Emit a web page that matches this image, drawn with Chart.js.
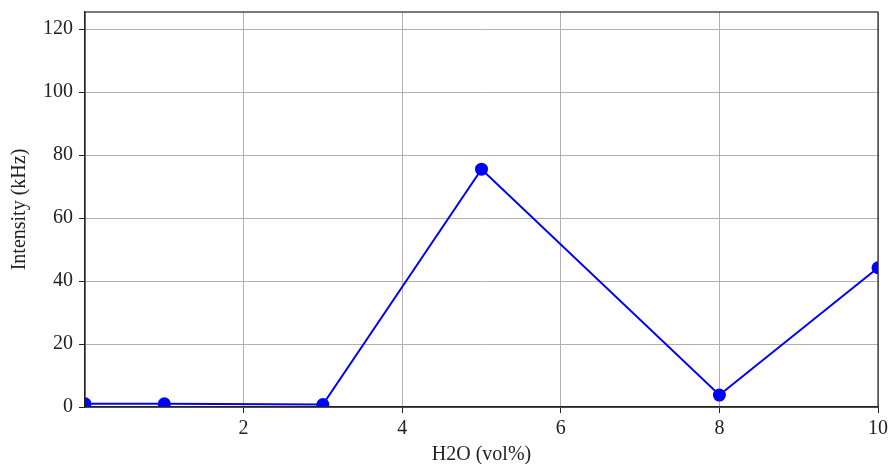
<!DOCTYPE html>
<html>
<head>
<meta charset="utf-8">
<script src="https://cdn.jsdelivr.net/npm/chart.js@4"></script>
<style>
  html, body { margin: 0; padding: 0; background: #fff; }
  #wrap { width: 888px; height: 464px; }
</style>
</head>
<body>
<div id="wrap"><canvas id="c" width="888" height="464"></canvas></div>
<script>
const waterVol = [0, 1, 3, 5, 8, 10];
const intensity = [1.0, 1.0, 0.8, 75.5, 3.8, 44.2];
const yTicks = [0, 20, 40, 60, 80, 100, 120];
const xTicks = [2, 4, 6, 8, 10];

const FONT = "'Liberation Serif', 'DejaVu Serif', serif";

const frame = {
  id: "frame",
  afterDatasetsDraw(chart) {
    const a = chart.chartArea, ctx = chart.ctx;
    ctx.save();
    ctx.strokeStyle = "#222";
    ctx.lineWidth = 1.2;
    ctx.strokeRect(a.left, a.top, a.right - a.left, a.bottom - a.top);
    ctx.restore();
  }
};

new Chart(document.getElementById("c"), {
  type: "line",
  data: {
    datasets: [{
      data: waterVol.map((x, i) => ({ x: x, y: intensity[i] })),
      borderColor: "#0000ff",
      backgroundColor: "#0000ff",
      borderWidth: 2,
      pointRadius: 5.5,
      pointHoverRadius: 5.5,
      clip: 0,
      tension: 0
    }]
  },
  options: {
    responsive: false,
    animation: false,
    layout: { padding: { top: 12, right: 10, left: 8, bottom: -3 } },
    plugins: { legend: { display: false }, tooltip: { enabled: false } },
    scales: {
      x: {
        type: "linear",
        min: 0,
        max: 10,
        afterBuildTicks: s => { s.ticks = xTicks.map(v => ({ value: v })); },
        afterFit: s => { s.paddingLeft = 0; s.paddingRight = 0; },
        grid: { color: "#b0b0b0", tickColor: "#222", tickLength: 6, lineWidth: 1 },
        border: { color: "#222", width: 1.2 },
        ticks: { color: "#222", font: { family: FONT, size: 20 }, padding: 4, maxRotation: 0 },
        title: { display: true, text: "H2O (vol%)", color: "#222", font: { family: FONT, size: 20 }, padding: { top: -2, bottom: 0 } }
      },
      y: {
        type: "linear",
        min: 0,
        max: 125.4,
        afterBuildTicks: s => { s.ticks = yTicks.map(v => ({ value: v })); },
        afterFit: s => { s.paddingTop = 0; s.paddingBottom = 0; },
        grid: { color: "#b0b0b0", tickColor: "#222", tickLength: 6, lineWidth: 1 },
        border: { color: "#222", width: 1.2 },
        ticks: { color: "#222", font: { family: FONT, size: 20 }, padding: 6 },
        title: { display: true, text: "Intensity (kHz)", color: "#222", font: { family: FONT, size: 20 }, padding: { top: 0, bottom: 5 } }
      }
    }
  },
  plugins: [frame]
});
</script>
</body>
</html>
